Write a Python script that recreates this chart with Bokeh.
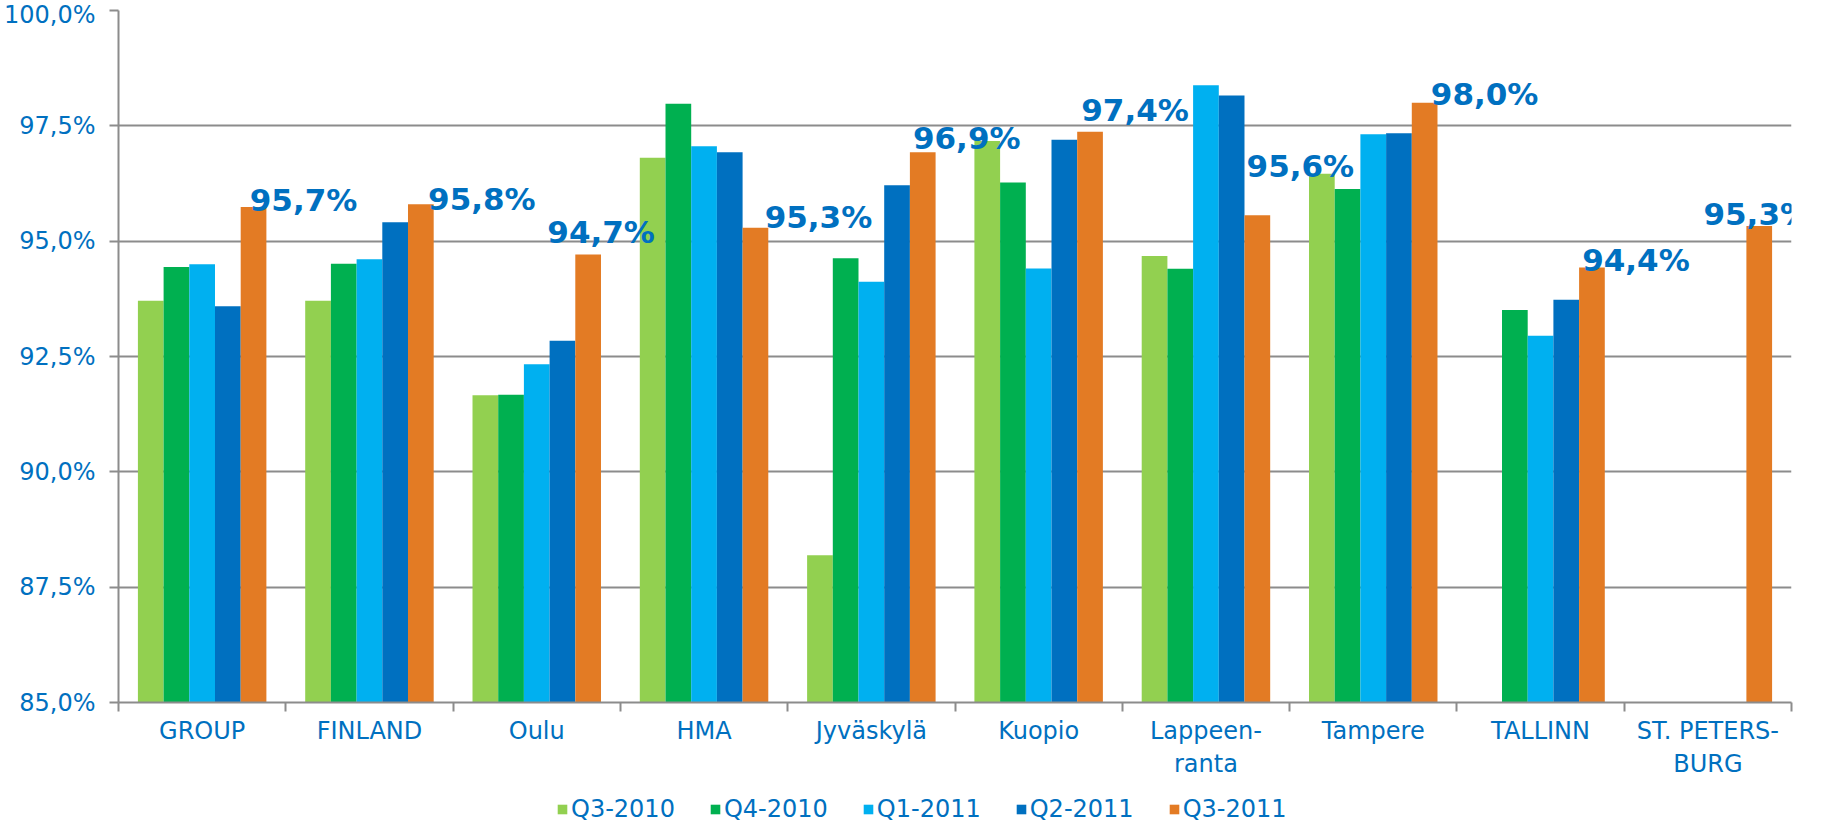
import math
from bokeh.plotting import figure
from bokeh.layouts import column
from bokeh.models import (ColumnDataSource, Range1d, FixedTicker, CustomJSTickFormatter,
                          Legend, LegendItem)
from bokeh.transform import dodge
from bokeh.core.properties import value
from bokeh.embed import file_html
from bokeh.resources import INLINE

NaN = float("nan")

categories = ["GROUP", "FINLAND", "Oulu", "HMA", "Jyväskylä", "Kuopio",
              "Lappeen-\nranta", "Tampere", "TALLINN", "ST. PETERS-\nBURG"]
series = ["Q3-2010", "Q4-2010", "Q1-2011", "Q2-2011", "Q3-2011"]

q3_2010 = [93.71, 93.71, 91.66, 96.81, 88.19, 97.17, 94.68, 96.46, NaN, NaN]
q4_2010 = [94.44, 94.51, 91.67, 97.98, 94.63, 96.27, 94.40, 96.13, 93.51, NaN]
q1_2011 = [94.50, 94.61, 92.33, 97.06, 94.12, 94.41, 98.38, 97.32, 92.95, NaN]
q2_2011 = [93.59, 95.41, 92.84, 96.93, 96.21, 97.20, 98.16, 97.34, 93.73, NaN]
q3_2011 = [95.74, 95.80, 94.71, 95.29, 96.93, 97.37, 95.56, 98.00, 94.43, 95.33]

y_ticks = [85.0, 87.5, 90.0, 92.5, 95.0, 97.5, 100.0]

# label placement tweaks (screen px) for the Q3-2011 value labels
label_dx = [50, 61, 13, 63, 44, 45, 43, 60, 44, -2]
label_dy = [7, 5, 23, 11, 14, 22, 49, 9, 7, 12]

colors = ["#92D050", "#00B050", "#00B0F0", "#0070C0", "#E37B24"]
TXT = "#0070C0"
GRID = "#8C8C8C"
FONT = "DejaVu Sans"

n = len(categories)
xs = list(range(n))
values = [q3_2010, q4_2010, q1_2011, q2_2011, q3_2011]

W = 1819
p = figure(width=W, height=781, output_backend="svg", toolbar_location=None,
           x_range=Range1d(-0.5, n - 0.5), y_range=Range1d(85, 100),
           min_border_left=118, min_border_right=28, min_border_top=10,
           min_border_bottom=60)
p.outline_line_color = None
p.background_fill_color = "white"
p.border_fill_color = "white"

bw = 0.1536
for k, (name, vals, col) in enumerate(zip(series, values, colors)):
    src = ColumnDataSource(dict(x=xs, top=vals))
    p.vbar(x=dodge("x", (k - 2) * bw, range=p.x_range), top="top", bottom=85,
           width=bw, source=src, fill_color=col, line_color=None)

lab_src = ColumnDataSource(dict(
    x=xs, y=q3_2011,
    text=[f"{v:.1f}%".replace(".", ",") for v in q3_2011],
    dx=label_dx, dy=[-d for d in label_dy]))
p.text(x=dodge("x", 2 * bw, range=p.x_range), y="y", text="text", source=lab_src,
       x_offset="dx", y_offset="dy", text_align="center", text_baseline="alphabetic",
       text_font=value(FONT), text_font_style="bold", text_font_size="31px",
       text_color=TXT)

# grid
p.xgrid.grid_line_color = None
p.ygrid.grid_line_color = GRID
p.ygrid.grid_line_width = 2

# y axis
yax = p.yaxis[0]
yax.ticker = FixedTicker(ticks=y_ticks)
yax.formatter = CustomJSTickFormatter(code="return tick.toFixed(1).replace('.', ',') + '%';")
yax.axis_line_color = GRID
yax.axis_line_width = 2
yax.major_tick_line_color = GRID
yax.major_tick_line_width = 2
yax.major_tick_out = 9
yax.major_tick_in = 0
yax.minor_tick_line_color = None
yax.major_label_standoff = 14
yax.major_label_text_font = FONT
yax.major_label_text_font_size = "24px"
yax.major_label_text_color = TXT

# x axis
xax = p.xaxis[0]
xax.ticker = FixedTicker(ticks=xs, minor_ticks=[i - 0.5 for i in range(n + 1)])
xax.major_label_overrides = {i: c for i, c in enumerate(categories)}
xax.axis_line_color = GRID
xax.axis_line_width = 2
xax.major_tick_line_color = None
xax.major_tick_out = 9
xax.major_tick_in = 0
xax.minor_tick_line_color = GRID
xax.minor_tick_line_width = 2
xax.minor_tick_out = 9
xax.minor_tick_in = 0
xax.major_label_standoff = 5
xax.major_label_text_font = FONT
xax.major_label_text_font_size = "24px"
xax.major_label_text_color = TXT
xax.major_label_text_align = "center"

# legend strip below the chart
lf = figure(width=W, height=43, output_backend="svg", toolbar_location=None,
            x_axis_location=None, y_axis_location=None, min_border=0,
            x_range=Range1d(0, 1), y_range=Range1d(0, 1))
lf.outline_line_color = None
lf.xgrid.grid_line_color = None
lf.ygrid.grid_line_color = None
items = []
for name, col in zip(series, colors):
    # off-screen dummy bar so the legend has a swatch to draw
    r = lf.vbar(x=[-5], top=[-5], bottom=-6, width=0.1, fill_color=col, line_color=None)
    items.append(LegendItem(label=name, renderers=[r]))
legend = Legend(items=items, orientation="horizontal", location=(438, 1),
                label_text_font=FONT, label_text_font_size="24px",
                label_text_color=TXT, glyph_width=12, glyph_height=12,
                label_standoff=3, spacing=34, border_line_color=None,
                background_fill_alpha=0, padding=0, margin=0)
lf.add_layout(legend, "center")

layout = column(p, lf, spacing=0)
open("out.html", "w").write(file_html(layout, INLINE))
